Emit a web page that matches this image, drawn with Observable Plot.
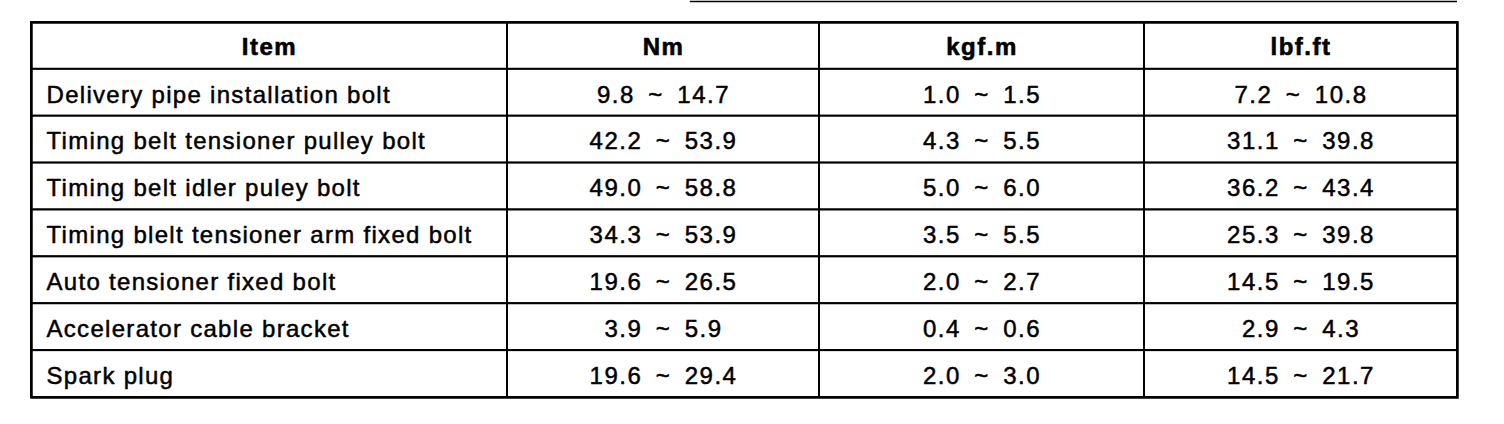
<!DOCTYPE html>
<html>
<head>
<meta charset="utf-8">
<script src="https://cdn.jsdelivr.net/npm/d3@7"></script>
<script src="https://cdn.jsdelivr.net/npm/@observablehq/plot@0.6"></script>
<style>
  body { margin: 0; background: #fff; }
  #chart svg { display: block; }
  #chart .items text { letter-spacing: 1.3px; }
</style>
</head>
<body>
<div id="chart"></div>
<script>
const headers = ['Item', 'Nm', 'kgf.m', 'lbf.ft']
const items = [
    'Delivery pipe installation bolt',
    'Timing belt tensioner pulley bolt',
    'Timing belt idler puley bolt',
    'Timing blelt tensioner arm fixed bolt',
    'Auto tensioner fixed bolt',
    'Accelerator cable bracket',
    'Spark plug'
]
const nm = ['9.8 ~ 14.7', '42.2 ~ 53.9', '49.0 ~ 58.8', '34.3 ~ 53.9', '19.6 ~ 26.5', '3.9 ~ 5.9', '19.6 ~ 29.4']
const kgf = ['1.0 ~ 1.5', '4.3 ~ 5.5', '5.0 ~ 6.0', '3.5 ~ 5.5', '2.0 ~ 2.7', '0.4 ~ 0.6', '2.0 ~ 3.0']
const lbf = ['7.2 ~ 10.8', '31.1 ~ 39.8', '36.2 ~ 43.4', '25.3 ~ 39.8', '14.5 ~ 19.5', '2.9 ~ 4.3', '14.5 ~ 21.7']

// table layout (column widths in px)
const colWidths = [476, 312, 325, 313]
const edges = d3.cumsum([0, ...colWidths])
const total = edges[edges.length - 1]

const body = items.map((d, i) => [d, nm[i], kgf[i], lbf[i]])
const rows = [headers, ...body]

const cells = []
rows.forEach((row, r) => {
    row.forEach((text, c) => {
        cells.push({
            r, c, text,
            x1: edges[c], x2: edges[c + 1],
            header: r === 0
        })
    })
})

const font = '"Liberation Sans", Arial, sans-serif'

let chart = Plot.plot({
    width: 1504,
    height: 424,
    marginLeft: 31,
    marginRight: 47,
    marginTop: 22,
    marginBottom: 27,
    x: {domain: [0, total], axis: null},
    y: {domain: [0, rows.length], range: [22, 397], axis: null},
    marks: [
        // stray scan line above the table
        Plot.ruleY([0], {x1: total * 0.462, x2: total, dy: -21, stroke: 'black', strokeWidth: 1.5}),
        Plot.rect(cells, {
            x1: 'x1', x2: 'x2',
            y1: 'r', y2: d => d.r + 1,
            fill: 'white', stroke: 'black', strokeWidth: 2
        }),
        Plot.frame({stroke: 'black', strokeWidth: 2.5}),
        Plot.text(cells.filter(d => d.header), {
            x: d => (d.x1 + d.x2) / 2,
            y: d => d.r + 0.5,
            text: 'text',
            fontFamily: font,
            fontWeight: 'bold',
            fontSize: 24,
            dy: 1,
            fill: 'black',
            stroke: 'black',
            strokeWidth: 0.6
        }),
        Plot.text(cells.filter(d => !d.header && d.c === 0), {
            x: 'x1',
            y: d => d.r + 0.5,
            text: 'text',
            textAnchor: 'start',
            dx: 15,
            dy: 2,
            fontFamily: font,
            fontSize: 24,
            fill: 'black',
            stroke: 'black',
            strokeWidth: 0.5,
            className: 'items'
        }),
        Plot.text(cells.filter(d => !d.header && d.c > 0), {
            x: d => (d.x1 + d.x2) / 2,
            y: d => d.r + 0.5,
            text: d => d.text.replace(/ /g, '\u2002'),
            dy: 2,
            fontFamily: font,
            fontSize: 24,
            fill: 'black',
            stroke: 'black',
            strokeWidth: 0.5
        })
    ],
    style: {
        background: 'white',
        letterSpacing: '1.5px'
    }
})

d3.select('#chart').append(() => chart)
</script>
</body>
</html>
